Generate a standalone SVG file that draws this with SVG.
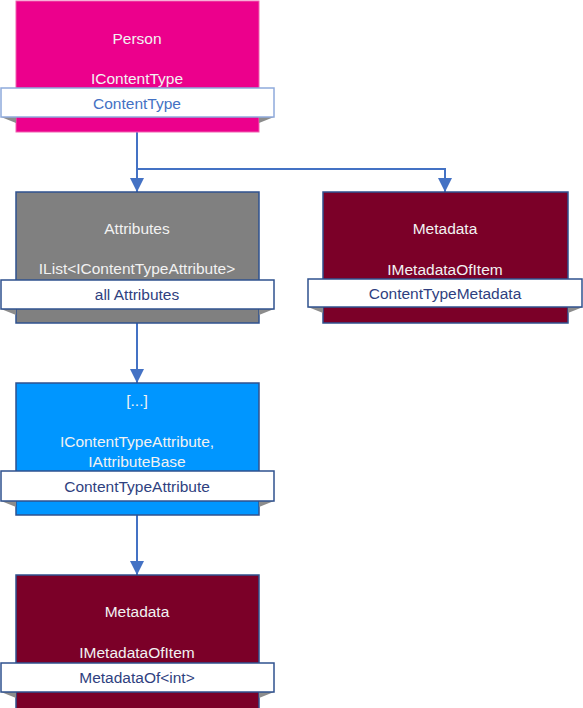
<svg xmlns="http://www.w3.org/2000/svg" width="583" height="708" viewBox="0 0 583 708">
<defs>
<style>
.box{stroke:#2F528F;stroke-width:1.5}
.ban{fill:#fff;stroke:#2F528F;stroke-width:1.5}
.fold{fill:#8C8C8C}
.t{font-family:"Liberation Sans",Arial,sans-serif;font-size:15.5px;fill:#F2F2F2;text-anchor:middle}
.bt{font-family:"Liberation Sans",Arial,sans-serif;font-size:15.5px;fill:#2F3F80;text-anchor:middle}
.con{fill:none;stroke:#4472C4;stroke-width:2}
</style>
<marker id="arr" viewBox="0 0 14 14" refX="14" refY="7" markerWidth="14" markerHeight="14" markerUnits="userSpaceOnUse" orient="auto">
<path d="M0,0 L14,7 L0,14 Z" fill="#4472C4"/>
</marker>
</defs>
<rect width="583" height="708" fill="#fff"/>
<g id="connectors">
<path class="con" d="M137,132 V192" marker-end="url(#arr)"/>
<path class="con" d="M137,169 H445 V192" marker-end="url(#arr)"/>
<path class="con" d="M137,323 V383" marker-end="url(#arr)"/>
<path class="con" d="M137,515 V575" marker-end="url(#arr)"/>
</g>
<g id="person">
<rect x="16" y="1" width="243" height="131" fill="#EC008C" stroke="#F060B0" stroke-width="1"/>
<polygon class="fold" points="1,117 16,117 16,123"/>
<polygon class="fold" points="274,117 259,117 259,123"/>
<rect x="1" y="88" width="273" height="29" fill="#fff" stroke="#8FAADC" stroke-width="1.5"/>
<text class="t" x="137" y="43.5">Person</text>
<text class="t" x="137" y="83.5">IContentType</text>
<text class="bt" x="137" y="108.5" style="fill:#4472C4">ContentType</text>
</g>
<g id="attributes">
<rect class="box" x="16" y="192" width="243" height="131" fill="#808080"/>
<polygon class="fold" points="1,309 16,309 16,315"/>
<polygon class="fold" points="274,309 259,309 259,315"/>
<rect class="ban" x="1" y="280" width="273" height="29"/>
<text class="t" x="137" y="233.5">Attributes</text>
<text class="t" x="137" y="273.5">IList&lt;IContentTypeAttribute&gt;</text>
<text class="bt" x="137" y="299.5">all Attributes</text>
</g>
<g id="metadata1">
<rect class="box" x="323" y="192" width="245" height="131" fill="#7B0028"/>
<polygon class="fold" points="308,307 323,307 323,313"/>
<polygon class="fold" points="583,307 568,307 568,313"/>
<rect class="ban" x="308" y="279" width="274" height="28"/>
<text class="t" x="445" y="233.5">Metadata</text>
<text class="t" x="445" y="274.5">IMetadataOfItem</text>
<text class="bt" x="445" y="298.5">ContentTypeMetadata</text>
</g>
<g id="attribute">
<rect class="box" x="16" y="383" width="243" height="132" fill="#0096FF"/>
<polygon class="fold" points="1,501 16,501 16,507"/>
<polygon class="fold" points="274,501 259,501 259,507"/>
<rect class="ban" x="1" y="471" width="273" height="30"/>
<text class="t" x="137" y="405.5">[...]</text>
<text class="t" x="137" y="446.5">IContentTypeAttribute,</text>
<text class="t" x="137" y="466.5">IAttributeBase</text>
<text class="bt" x="137" y="491.5">ContentTypeAttribute</text>
</g>
<g id="metadata2">
<rect class="box" x="16" y="575" width="243" height="140" fill="#7B0028"/>
<polygon class="fold" points="1,692 16,692 16,698"/>
<polygon class="fold" points="274,692 259,692 259,698"/>
<rect class="ban" x="1" y="663" width="273" height="29"/>
<text class="t" x="137" y="616.5">Metadata</text>
<text class="t" x="137" y="657.5">IMetadataOfItem</text>
<text class="bt" x="137" y="682.5">MetadataOf&lt;int&gt;</text>
</g>
</svg>
